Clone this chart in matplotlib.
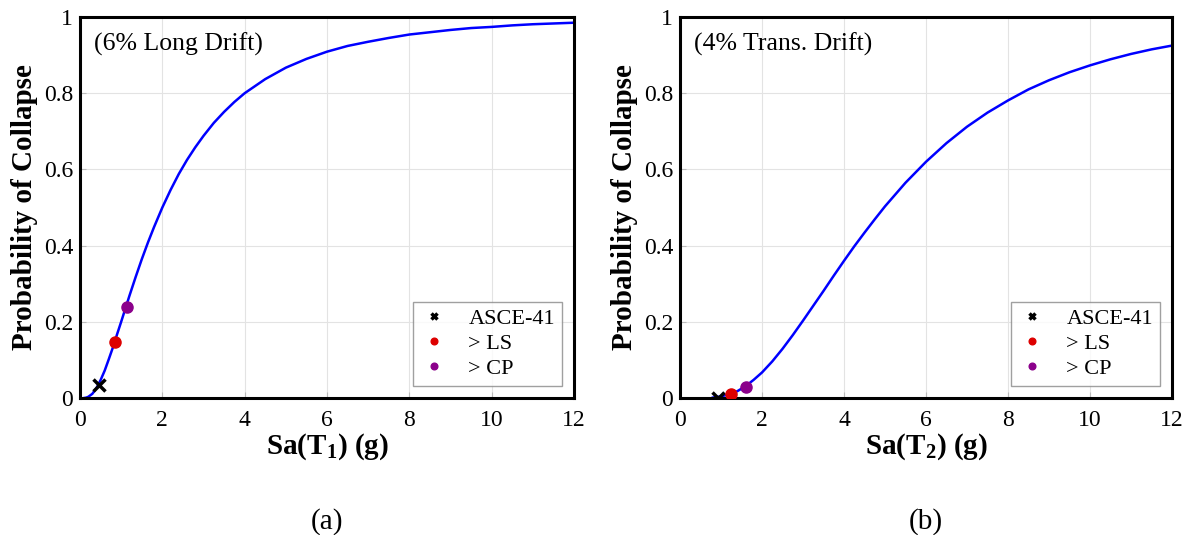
import matplotlib.pyplot as plt

# curva (a): 6% deriva longitudinal
sa_a = [0.1, 0.15, 0.2, 0.3, 0.4, 0.5, 0.6, 0.7, 0.8, 0.9, 1.0, 1.1, 1.2, 1.35,
        1.5, 1.65, 1.8, 2.0, 2.2, 2.4, 2.6, 2.8, 3.0, 3.25, 3.5, 3.75, 4.0, 4.5,
        5.0, 5.5, 6.0, 6.5, 7.0, 7.5, 8.0, 8.5, 9.0, 9.5, 10.0, 10.5, 11.0,
        11.5, 12.0]
pc_a = [0.0, 0.001, 0.003, 0.011, 0.026, 0.047, 0.072, 0.102, 0.133, 0.167,
        0.200, 0.234, 0.268, 0.317, 0.364, 0.408, 0.449, 0.500, 0.546, 0.588,
        0.625, 0.658, 0.688, 0.722, 0.751, 0.777, 0.800, 0.837, 0.867, 0.890,
        0.909, 0.924, 0.935, 0.945, 0.954, 0.960, 0.966, 0.971, 0.974, 0.978,
        0.981, 0.983, 0.985]

# curva (b): 4% deriva transversal
sa_b = [0.8, 0.9, 1.0, 1.1, 1.2, 1.3, 1.4, 1.6, 1.8, 2.0, 2.25, 2.5, 2.75, 3.0,
        3.25, 3.5, 3.75, 4.0, 4.25, 4.5, 4.75, 5.0, 5.5, 6.0, 6.5, 7.0, 7.5,
        8.0, 8.5, 9.0, 9.5, 10.0, 10.5, 11.0, 11.5, 12.0]
pc_b = [0.001, 0.003, 0.004, 0.007, 0.010, 0.014, 0.018, 0.031, 0.048, 0.067,
        0.096, 0.129, 0.165, 0.203, 0.242, 0.281, 0.321, 0.360, 0.398, 0.434,
        0.469, 0.503, 0.565, 0.620, 0.669, 0.712, 0.749, 0.781, 0.810, 0.834,
        0.855, 0.873, 0.889, 0.903, 0.915, 0.925]

# puntos: ASCE-41, > LS, > CP
pts_a_x = [0.47, 0.86, 1.13]
pts_a_y = [0.034, 0.148, 0.238]
pts_b_x = [0.92, 1.24, 1.61]
pts_b_y = [0.001, 0.011, 0.028]

titulos = ['(6% Long Drift)', '(4% Trans. Drift)']
xlabels = [r'Sa(T$_\mathbf{1}$) (g)', r'Sa(T$_\mathbf{2}$) (g)']
letras = ['(a)', '(b)']

plt.rcParams['font.family'] = 'Liberation Serif'
plt.rcParams['mathtext.fontset'] = 'custom'
plt.rcParams['mathtext.rm'] = 'Liberation Serif'
plt.rcParams['mathtext.bf'] = 'Liberation Serif:bold'

fig = plt.figure(figsize=(11.91, 5.35), dpi=100)
ax1 = fig.add_axes([80/1191, 1 - 398/535, 494/1191, 381/535])
ax2 = fig.add_axes([680/1191, 1 - 398/535, 492/1191, 381/535])

datos = [(ax1, sa_a, pc_a, pts_a_x, pts_a_y), (ax2, sa_b, pc_b, pts_b_x, pts_b_y)]
for i, (ax, x, y, px, py) in enumerate(datos):
    ax.plot(x, y, color='#0000ff', lw=1.8, zorder=2)
    ax.plot(px[0], py[0], 'x', color='black', ms=8, mew=2.5, zorder=3, label='ASCE-41')
    ax.plot(px[1], py[1], 'o', color='#dd0000', ms=8, zorder=3, label='> LS')
    ax.plot(px[2], py[2], 'o', color='#8b008b', ms=8, zorder=3, label='> CP')
    ax.set_xlim(0, 12)
    ax.set_ylim(0, 1)
    ax.set_xticks([0, 2, 4, 6, 8, 10, 12])
    ax.set_yticks([0, 0.2, 0.4, 0.6, 0.8, 1])
    ax.set_yticklabels(['0', '0.2', '0.4', '0.6', '0.8', '1'])
    ax.grid(True, color='#e3e3e3', lw=0.8)
    ax.set_axisbelow(True)
    ax.tick_params(direction='in', length=4, width=0.8, labelsize=17, color='#bbbbbb')
    ax.tick_params(axis='x', pad=9)
    ax.tick_params(axis='y', pad=5)
    for s in ax.spines.values():
        s.set_linewidth(2.2)
    ax.set_ylabel('Probability of Collapse', fontsize=21, fontweight='bold', labelpad=4)
    ax.set_xlabel(xlabels[i], fontsize=21, fontweight='bold', labelpad=0)
    ax.text(0.028, 0.96, titulos[i], transform=ax.transAxes, fontsize=18.5, va='top', ha='left')
    leg = ax.legend(loc='lower right', fontsize=16, frameon=True, fancybox=False,
                    edgecolor='#888888', markerscale=0.6, handlelength=1.3,
                    handletextpad=0.9, borderaxespad=0.55, labelspacing=0.2,
                    borderpad=0.3)
    leg.get_frame().set_linewidth(1.0)
    ax.text(0.5, -0.325, letras[i], transform=ax.transAxes, fontsize=21, ha='center', va='center')

fig.savefig('out.png', dpi=100)
